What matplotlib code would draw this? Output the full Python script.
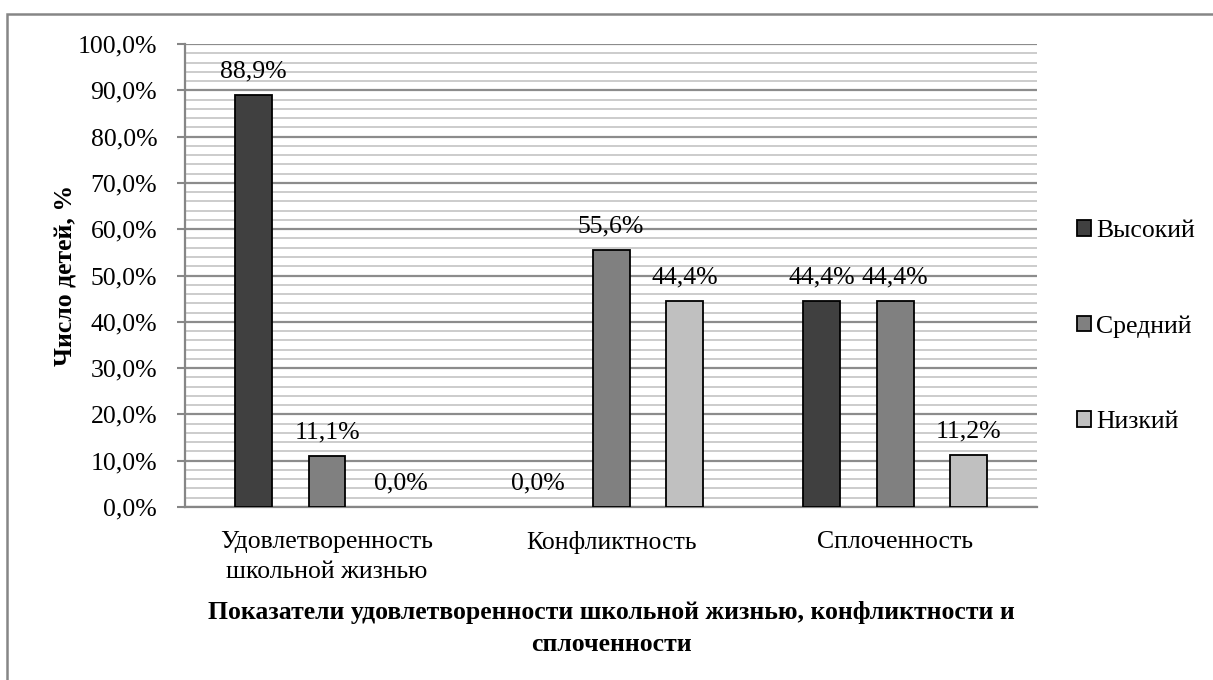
import numpy as np
import matplotlib
matplotlib.use("Agg")
import matplotlib.pyplot as plt
from matplotlib.patches import Rectangle
from matplotlib.ticker import MultipleLocator, FuncFormatter

plt.rcParams['font.family'] = ['Liberation Serif', 'DejaVu Serif']

# data
categories = ['Удовлетворенность\nшкольной жизнью', 'Конфликтность', 'Сплоченность']
series_names = ['Высокий', 'Средний', 'Низкий']
high = [88.9, 0.0, 44.4]
medium = [11.1, 55.6, 44.4]
low = [0.0, 44.4, 11.2]
colors = ['#404040', '#808080', '#c0c0c0']

fig = plt.figure(figsize=(12.13, 6.8), dpi=100)
ax = fig.add_axes([0.1525, 0.2544, 0.7025, 0.6809])

x = np.arange(len(categories))
width = 0.13
step = 0.259
fs = 18.5

for i, (vals, name, col) in enumerate(zip([high, medium, low], series_names, colors)):
    pos = x + (i - 1) * step
    lw = [1.3 if v > 0 else 0 for v in vals]
    ax.bar(pos, vals, width, color=col, edgecolor='black', linewidth=lw, label=name, zorder=3)
    for p, v in zip(pos, vals):
        ax.annotate(('%.1f%%' % v).replace('.', ','), (p, v), xytext=(0, 9),
                    textcoords='offset points', ha='center', va='bottom', fontsize=fs, zorder=4)

ax.set_xlim(-0.5, 2.5)
ax.set_ylim(0, 100)
ax.yaxis.set_major_locator(MultipleLocator(10))
ax.yaxis.set_minor_locator(MultipleLocator(2))
ax.yaxis.set_major_formatter(FuncFormatter(lambda v, p: ('%.1f%%' % v).replace('.', ',')))
ax.grid(axis='y', which='major', color='#8c8c8c', linewidth=1.6, zorder=0)
ax.grid(axis='y', which='minor', color='#c8c8c8', linewidth=1.3, zorder=0)
ax.set_axisbelow(True)

ax.set_xticks(x)
ax.set_xticklabels(categories, fontsize=fs, linespacing=1.5)
ax.tick_params(axis='x', length=0, pad=17)
ax.tick_params(axis='y', which='major', length=6, color='#868686', width=1.5, labelsize=fs, pad=14)
ax.tick_params(axis='y', which='minor', length=0)

for s in ['top', 'right']:
    ax.spines[s].set_visible(False)
for s in ['left', 'bottom']:
    ax.spines[s].set_color('#868686')
    ax.spines[s].set_linewidth(1.6)

ax.set_ylabel('Число детей, %', fontsize=fs, fontweight='bold', labelpad=0)
ax.set_xlabel('Показатели удовлетворенности школьной жизнью, конфликтности и\nсплоченности',
              fontsize=fs, fontweight='bold', labelpad=13, linespacing=1.5)

leg = ax.legend(loc='center left', bbox_to_anchor=(1.035, 0.39), frameon=False, fontsize=fs,
                handlelength=0.55, handleheight=0.55, handletextpad=0.2, labelspacing=2.85,
                borderaxespad=0)
for h in leg.legend_handles:
    h.set_linewidth(1.3)

# outer chart border
fig.patches.append(Rectangle((7 / 1213, -0.1), 1.2, 1 - 14 / 680 + 0.1, transform=fig.transFigure,
                             fill=False, edgecolor='#868686', linewidth=1.8))

fig.savefig('out.png', dpi=100)
